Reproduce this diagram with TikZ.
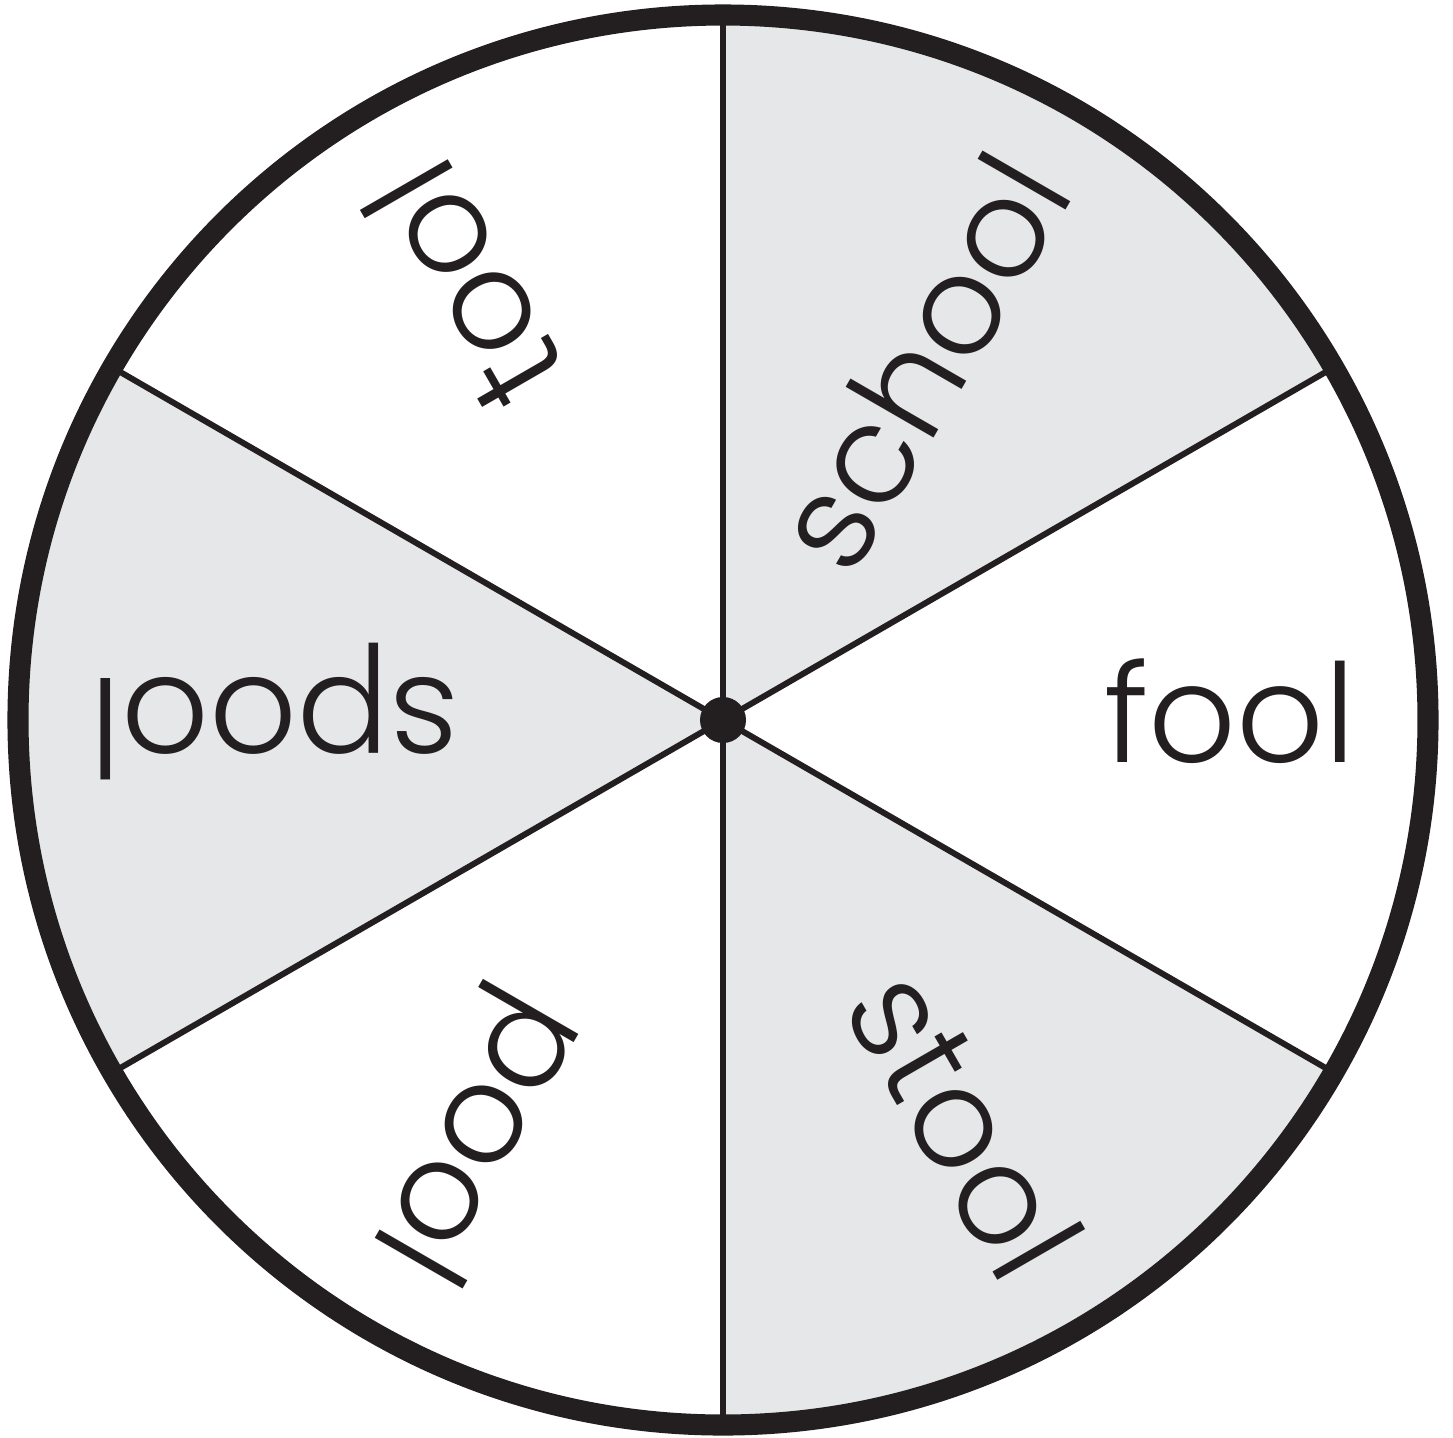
\documentclass[tikz,border=0pt]{standalone}
\usepackage{fontspec}
\setmainfont{Poppins Light}
\usetikzlibrary{calc}
\definecolor{inkblack}{HTML}{231F20}
\definecolor{wheelgray}{HTML}{E6E7E8}
\tikzset{
  sector/.style={fill=wheelgray},
  divider/.style={draw=inkblack, line width=1.7pt},
  word/.style={text=inkblack, inner sep=0pt, font=\fontsize{39}{40}\selectfont}
}
\begin{document}
\begin{tikzpicture}
  \useasboundingbox (-7.23,-7.17) rectangle (7.30,7.20);

  \coordinate (hub) at (0,0);

  % shaded sectors
  \foreach \a in {30,150,270}
  {
    \fill[sector] (hub) -- (\a:7.05) arc (\a:\a+60:7.05) -- cycle;
  }

  % dividing lines
  \foreach \a in {90,30,-30,-90,-150,150}
  {
    \coordinate (rim\a) at (\a:7.05);
    \draw[divider] (hub) -- (rim\a);
  }

  \draw[draw=inkblack, line width=6pt] (hub) circle (7.05);
  \node[circle, fill=inkblack, inner sep=0, minimum size=0.46cm] (pin) at (hub) {};

  % words
  \foreach \a/\w in {60/school,0/fool,-60/stool,-120/pool,180/spool,120/tool}
  {
    \node[word, rotate=\a, anchor=base east] (w\w) at ($(\a:6.34)+(\a-90:0.42)$) {\w};
  }
\end{tikzpicture}
\end{document}
